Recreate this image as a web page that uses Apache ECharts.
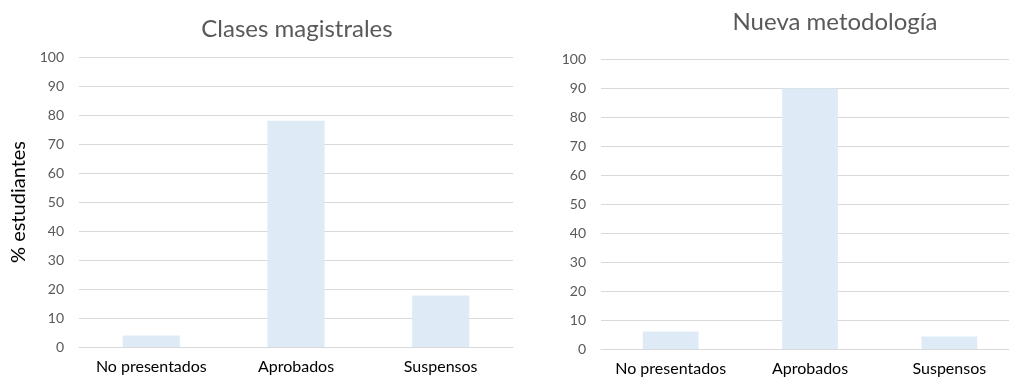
<!DOCTYPE html>
<html><head><meta charset="utf-8">
<script src="https://cdn.jsdelivr.net/npm/echarts@6/dist/echarts.min.js"></script>
<style>html,body{margin:0;padding:0;background:#fff}#c{width:1009px;height:379px}</style>
</head><body><div id="c"></div>
<script>
const categories = ['No presentados', 'Aprobados', 'Suspensos'];
const clasesMagistrales = [4, 78, 17.8];
const nuevaMetodologia = [6, 89.8, 4.3];
const titles = ['Clases magistrales', 'Nueva metodología'];
const yAxisName = '% estudiantes';

const font = 'Lato, "Open Sans", sans-serif';
const chart = echarts.init(document.getElementById('c'));
const yAx = (gi) => ({
  type: 'value', gridIndex: gi, min: 0, max: 100, interval: 10,
  axisLine: {show: false}, axisTick: {show: false},
  axisLabel: {color: '#595959', fontSize: 14, fontFamily: font, margin: 15},
  splitLine: {lineStyle: {color: '#d9d9d9', width: 1}}
});
const xAx = (gi) => ({
  type: 'category', gridIndex: gi, data: categories,
  axisLine: {lineStyle: {color: '#d9d9d9'}}, axisTick: {show: false},
  axisLabel: {color: '#000', fontSize: 16, fontFamily: font, margin: 12, interval: 0, hideOverlap: false}
});
chart.setOption({
  animation: false,
  title: [
    {text: titles[0], left: 292, top: 12, textAlign: 'center', textStyle: {color: '#595959', fontSize: 24, fontWeight: 'normal', fontFamily: font}},
    {text: titles[1], left: 830, top: 5, textAlign: 'center', textStyle: {color: '#595959', fontSize: 24, fontWeight: 'normal', fontFamily: font}}
  ],
  grid: [
    {left: 79, top: 57, width: 434, height: 290, outerBoundsMode: 'none'},
    {left: 601, top: 59, width: 418, height: 290, outerBoundsMode: 'none'}
  ],
  xAxis: [xAx(0), xAx(1)],
  yAxis: [
    Object.assign(yAx(0), {name: yAxisName, nameLocation: 'middle', nameGap: 50, nameTextStyle: {color: '#000', fontSize: 20, fontFamily: font}}),
    yAx(1)
  ],
  series: [
    {type: 'bar', xAxisIndex: 0, yAxisIndex: 0, data: clasesMagistrales, barWidth: '39.5%', itemStyle: {color: '#deebf7'}},
    {type: 'bar', xAxisIndex: 1, yAxisIndex: 1, data: nuevaMetodologia, barWidth: '40%', itemStyle: {color: '#deebf7'}}
  ]
});
</script></body></html>
